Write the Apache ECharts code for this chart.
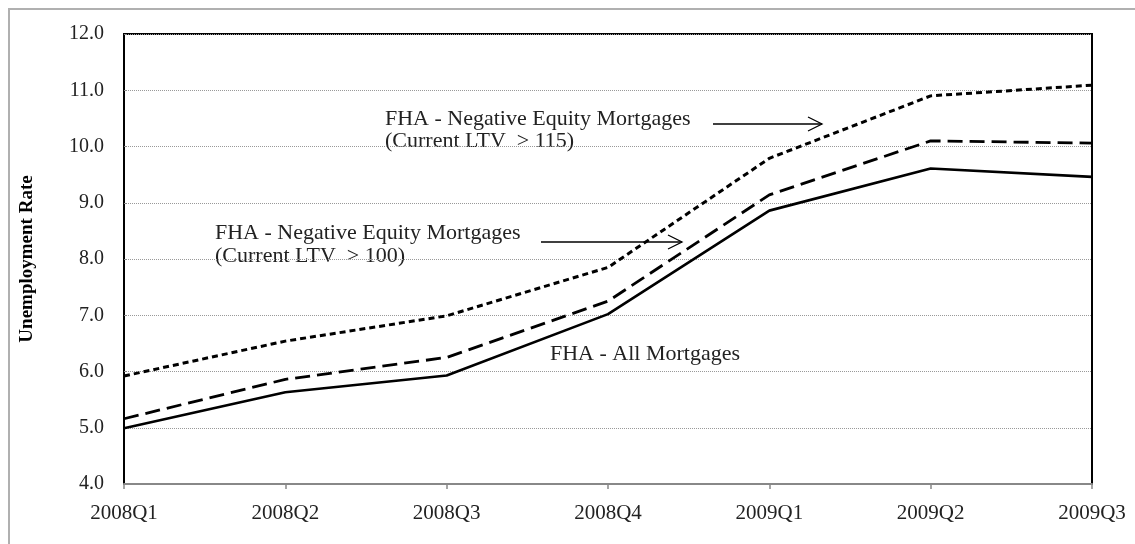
<!DOCTYPE html>
<html>
<head>
  <meta charset="UTF-8" />
  <title>Unemployment Rate</title>
  <script src="https://cdn.jsdelivr.net/npm/echarts@6/dist/echarts.min.js"></script>
  <style>
    body { margin: 0; background: #fff; }
    #chart { width: 1135px; height: 544px; }
  </style>
</head>
<body>
  <div id="chart"></div>
  <script>
    const quarters = ['2008Q1', '2008Q2', '2008Q3', '2008Q4', '2009Q1', '2009Q2', '2009Q3'];
    const allMortgages = [4.99, 5.63, 5.93, 7.02, 8.86, 9.61, 9.46];
    const ltv100 = [5.16, 5.86, 6.25, 7.25, 9.14, 10.10, 10.06];
    const ltv115 = [5.92, 6.54, 6.99, 7.85, 9.79, 10.90, 11.09];

    const font = '"Liberation Serif", "DejaVu Serif", serif';
    const annoFont = '22px ' + font;

    function arrow(x1, x2, y) {
      return [
        { type: 'line', shape: { x1: x1, y1: y, x2: x2, y2: y }, style: { stroke: '#000', lineWidth: 1.3 } },
        { type: 'polyline', shape: { points: [[x2 - 14, y - 7], [x2, y], [x2 - 14, y + 7]] }, style: { stroke: '#000', lineWidth: 1.3, fill: null } }
      ];
    }
    function label(text, x, y) {
      return { type: 'text', style: { text: text, x: x, y: y, font: annoFont, fill: '#222', textVerticalAlign: 'middle' } };
    }

    const chart = echarts.init(document.getElementById('chart'));
    chart.setOption({
      animation: false,
      grid: { left: 124, right: 43, top: 34, bottom: 60, show: true, borderColor: '#000', borderWidth: 2 },
      xAxis: {
        type: 'category',
        data: quarters,
        boundaryGap: false,
        axisLine: { lineStyle: { color: '#888', width: 2 } },
        axisTick: { show: true, length: 5, lineStyle: { color: '#888', width: 1.5 } },
        axisLabel: { color: '#222', fontFamily: font, fontSize: 21, margin: 19 }
      },
      yAxis: {
        type: 'value',
        min: 4,
        max: 12,
        interval: 1,
        name: 'Unemployment Rate',
        nameLocation: 'middle',
        nameGap: 87,
        nameTextStyle: { color: '#000', fontFamily: font, fontSize: 19, fontWeight: 'bold' },
        axisLine: { show: true, lineStyle: { color: '#000', width: 2 } },
        axisTick: { show: true, inside: true, length: 3, lineStyle: { color: '#888' } },
        axisLabel: { color: '#222', fontFamily: font, fontSize: 20, margin: 20, formatter: v => v.toFixed(1) },
        splitLine: { lineStyle: { color: '#999', type: [1, 1], width: 1 } }
      },
      series: [
        { name: 'FHA - All Mortgages', type: 'line', data: allMortgages, symbol: 'none',
          lineStyle: { color: '#000', width: 2.6 } },
        { name: 'FHA - Negative Equity Mortgages (Current LTV > 100)', type: 'line', data: ltv100, symbol: 'none',
          lineStyle: { color: '#000', width: 2.8, type: [15, 7] } },
        { name: 'FHA - Negative Equity Mortgages (Current LTV > 115)', type: 'line', data: ltv115, symbol: 'none',
          lineStyle: { color: '#000', width: 3, type: [6, 4] } }
      ],
      graphic: [
        { type: 'rect', shape: { x: 9, y: 9, width: 1300, height: 700 }, style: { stroke: '#b0b0b0', lineWidth: 2, fill: null }, silent: true },
        label('FHA - Negative Equity Mortgages', 385, 119),
        label('(Current LTV  > 115)', 385, 141),
        label('FHA - Negative Equity Mortgages', 215, 233),
        label('(Current LTV  > 100)', 215, 256),
        label('FHA - All Mortgages', 550, 354),
        ...arrow(713, 822, 124),
        ...arrow(541, 682, 242)
      ]
    });
  </script>
</body>
</html>
